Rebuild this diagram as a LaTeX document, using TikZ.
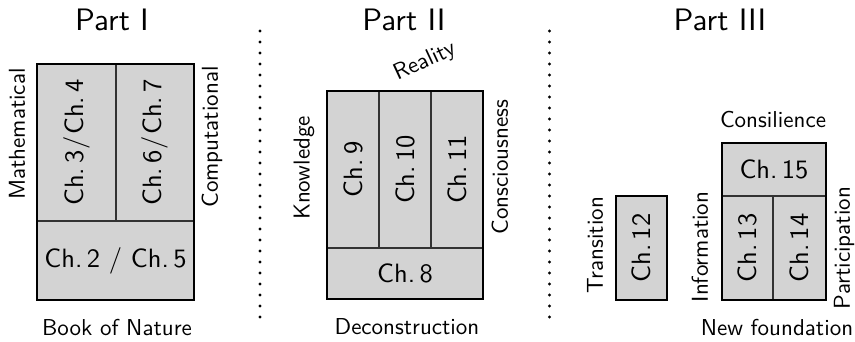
\documentclass[tikz,border=0pt]{standalone}
\usepackage{fontspec}
\setsansfont{lmsans10-regular.otf}
\definecolor{boxgray}{RGB}{211,211,211}
\definecolor{divgray}{RGB}{50,50,50}
\begin{document}
\begin{tikzpicture}[x=1pt,y=-1pt,
  cell/.style={draw=divgray, line width=1.8pt, fill=boxgray, inner sep=0pt, outer sep=0pt,
    font=\sffamily\fontsize{26.5}{30}\selectfont},
  celltext/.style={rotate=90, font=\sffamily\fontsize{26.5}{30}\selectfont, inner sep=0pt},
  frame/.style={draw=black, line width=2.4pt},
  lbl/.style={font=\sffamily\fontsize{23}{26}\selectfont, inner sep=0pt},
  title/.style={font=\sffamily\fontsize{31}{34}\selectfont, inner sep=0pt},
  dotline/.style={line width=3.2pt, line cap=round, dash pattern=on 0pt off 11pt}]
\useasboundingbox (0,0) rectangle (855,341);

% ---------- Part I ----------
\node[title] (t1) at (112,20) {Part I};
\node[cell, minimum width=79pt, minimum height=157pt] (c34) at (76.5,142.5) {};
\node[celltext] (c34t) at (c34.center) {Ch.\,3\kern1pt/\kern1pt Ch.\,4};
\node[cell, minimum width=78pt, minimum height=157pt] (c67) at (155,142.5) {};
\node[celltext] (c67t) at (c67.center) {Ch.\,6\kern1pt/\kern1pt Ch.\,7};
\node[cell, minimum width=157pt, minimum height=79pt] (c25) at (115.5,260.5) {Ch.\,2 / Ch.\,5};
\draw[frame] (c34.north west) rectangle (c25.south east);
\node[lbl, rotate=90] (math) at (17,134) {Mathematical};
\node[lbl, rotate=90] (comp) at (212,137) {Computational};
\node[lbl] (bon) at (117,328) {Book of Nature};

% ---------- dotted separators ----------
\coordinate (d1a) at (260,31);
\coordinate (d1b) at (260,328);
\coordinate (d2a) at (549.5,31);
\coordinate (d2b) at (549.5,328);
\draw[dotline] (d1a) -- (d1b);
\draw[dotline] (d2a) -- (d2b);

% ---------- Part II ----------
\node[title] (t2) at (404,20) {Part II};
\node[cell, minimum width=52pt, minimum height=157pt] (c9) at (353,169.5) {};
\node[celltext] (c9t) at (c9.center) {Ch.\,9};
\node[cell, minimum width=52pt, minimum height=157pt] (c10) at (405,169.5) {};
\node[celltext] (c10t) at (c10.center) {Ch.\,10};
\node[cell, minimum width=52pt, minimum height=157pt] (c11) at (457,169.5) {};
\node[celltext] (c11t) at (c11.center) {Ch.\,11};
\node[cell, minimum width=156pt, minimum height=51pt] (c8) at (405,273.5) {Ch.\,8};
\draw[frame] (c9.north west) rectangle (c8.south east);
\node[lbl, rotate=90] (know) at (304,168) {Knowledge};
\node[lbl, rotate=90] (cons) at (500,167) {Consciousness};
\node[lbl, rotate=25] (real) at (425,62) {Reality};
\node[lbl] (dec) at (407,327) {Deconstruction};

% ---------- Part III ----------
\node[title] (t3) at (720,20) {Part III};
\node[cell, minimum width=51pt, minimum height=104pt] (c12) at (641.5,248) {};
\node[celltext] (c12t) at (c12.center) {Ch.\,12};
\draw[frame] (c12.north west) rectangle (c12.south east);
\node[cell, minimum width=104pt, minimum height=53pt] (c15) at (774,169.5) {Ch.\,15};
\node[cell, minimum width=51pt, minimum height=104pt] (c13) at (747.5,248) {};
\node[celltext] (c13t) at (c13.center) {Ch.\,13};
\node[cell, minimum width=53pt, minimum height=104pt] (c14) at (799.5,248) {};
\node[celltext] (c14t) at (c14.center) {Ch.\,14};
\draw[frame] (c15.north west) rectangle (c14.south east);
\node[lbl] (consil) at (773,120) {Consilience};
\node[lbl, rotate=90] (trans) at (595,245) {Transition};
\node[lbl, rotate=90] (info) at (700,247) {Information};
\node[lbl, rotate=90] (part) at (844,248) {Participation};
\node[lbl] (newf) at (777,328) {New foundation};
\end{tikzpicture}
\end{document}
